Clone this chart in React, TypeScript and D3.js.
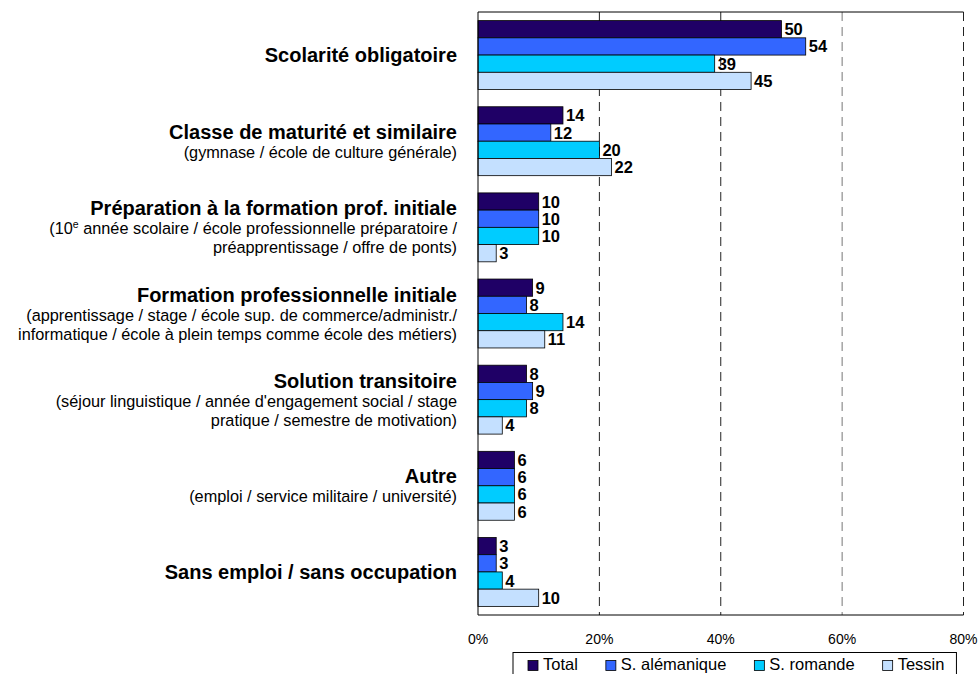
import React, { useEffect, useRef } from 'react';
import * as d3 from 'd3';

// categories (bold title) and their grey explanation lines
const categories = [
    'Scolarité obligatoire',
    'Classe de maturité et similaire',
    'Préparation à la formation prof. initiale',
    'Formation professionnelle initiale',
    'Solution transitoire',
    'Autre',
    'Sans emploi / sans occupation',
];
const subtitles = [
    [],
    ['(gymnase / école de culture générale)'],
    ['(10^e année scolaire / école professionnelle préparatoire /', 'préapprentissage / offre de ponts)'],
    ['(apprentissage / stage / école sup. de commerce/administr./', 'informatique / école à plein temps comme école des métiers)'],
    ["(séjour linguistique / année d'engagement social / stage", 'pratique / semestre de motivation)'],
    ['(emploi / service militaire / université)'],
    [],
];

const seriesNames = ['Total', 'S. alémanique', 'S. romande', 'Tessin'];
const total = [50, 14, 10, 9, 8, 6, 3];
const alemanique = [54, 12, 10, 8, 9, 6, 3];
const romande = [39, 20, 10, 14, 8, 6, 4];
const tessin = [45, 22, 3, 11, 4, 6, 10];
const tickValues = [0, 20, 40, 60, 80];

const colors = ['#1f0066', '#3366ff', '#00ccff', '#c4e0ff'];

const App = () => {
    const ref = useRef(null);

    useEffect(() => {
        const width = 980;
        const height = 674;
        const margin = {
            top: 12, right: 16.5, bottom: 59, left: 478,
        };
        const font = 'Arial, "Liberation Sans", sans-serif';
        const series = [total, alemanique, romande, tessin];

        const svg = d3.select(ref.current);
        svg.selectAll('*').remove();
        svg.attr('width', width).attr('height', height)
            .style('font-family', font);

        const x = d3.scaleLinear()
            .domain([0, 80])
            .range([margin.left, width - margin.right]);
        const y = d3.scaleBand()
            .domain(categories)
            .range([margin.top, height - margin.bottom])
            .paddingInner(0.2)
            .paddingOuter(0.1);
        const yInner = d3.scaleBand()
            .domain(seriesNames)
            .range([0, y.bandwidth()]);

        // dashed gridlines
        svg.append('g')
            .selectAll('line')
            .data(tickValues.filter((t) => t > 0))
            .join('line')
            .attr('x1', (d) => x(d))
            .attr('x2', (d) => x(d))
            .attr('y1', margin.top)
            .attr('y2', height - margin.bottom)
            .attr('stroke', (d) => (d === 60 ? '#777' : '#222'))
            .attr('stroke-width', 1)
            .attr('stroke-dasharray', '9,6');

        // top and bottom frame
        svg.append('line')
            .attr('x1', x(0)).attr('x2', x(80))
            .attr('y1', margin.top).attr('y2', margin.top)
            .attr('stroke', '#000');
        svg.append('line')
            .attr('x1', x(0)).attr('x2', x(80))
            .attr('y1', height - margin.bottom).attr('y2', height - margin.bottom)
            .attr('stroke', '#000');

        // bars
        const groups = svg.append('g')
            .selectAll('g')
            .data(categories)
            .join('g')
            .attr('transform', (d) => `translate(0,${y(d)})`);

        seriesNames.forEach((name, si) => {
            groups.append('rect')
                .attr('x', x(0))
                .attr('y', yInner(name))
                .attr('width', (d, i) => x(series[si][i]) - x(0))
                .attr('height', yInner.bandwidth())
                .attr('fill', colors[si])
                .attr('stroke', '#000')
                .attr('stroke-width', 0.8);

            groups.append('text')
                .attr('x', (d, i) => x(series[si][i]) + 3)
                .attr('y', yInner(name) + yInner.bandwidth() / 2 + 6)
                .attr('font-size', '16.5px')
                .attr('font-weight', 'bold')
                .attr('fill', '#000')
                .text((d, i) => series[si][i]);
        });

        // left axis line
        svg.append('line')
            .attr('x1', x(0)).attr('x2', x(0))
            .attr('y1', margin.top).attr('y2', height - margin.bottom)
            .attr('stroke', '#000');

        // category labels
        const lineH = 19;
        categories.forEach((cat, i) => {
            const subs = subtitles[i];
            const n = subs.length + 1;
            const center = y(cat) + y.bandwidth() / 2;
            const first = center - ((n - 1) * lineH) / 2 + 7;
            svg.append('text')
                .attr('x', 457)
                .attr('y', first)
                .attr('text-anchor', 'end')
                .attr('font-size', '20px')
                .attr('font-weight', 'bold')
                .attr('fill', '#000')
                .text(cat);
            subs.forEach((line, j) => {
                const t = svg.append('text')
                    .attr('x', 457)
                    .attr('y', first + (j + 1) * lineH)
                    .attr('text-anchor', 'end')
                    .attr('font-size', '16.3px')
                    .attr('fill', '#000');
                if (line.includes('^')) {
                    const [pre, rest] = line.split('^');
                    t.append('tspan').text(pre);
                    t.append('tspan')
                        .attr('font-size', '10.5px')
                        .attr('dy', -6)
                        .text(rest[0]);
                    t.append('tspan')
                        .attr('dy', 6)
                        .text(rest.slice(1));
                } else {
                    t.text(line);
                }
            });
        });

        // x tick labels
        svg.append('g')
            .selectAll('text')
            .data(tickValues)
            .join('text')
            .attr('x', (d) => x(d))
            .attr('y', 644)
            .attr('text-anchor', 'middle')
            .attr('font-size', '14px')
            .attr('fill', '#000')
            .text((d) => `${d}%`);

        // legend (its lower edge runs off the page, as in the source)
        const legend = svg.append('g');
        const box = legend.append('rect')
            .attr('x', 513)
            .attr('y', 652.5)
            .attr('height', 30)
            .attr('fill', '#fff')
            .attr('stroke', '#000');
        let cx = 528;
        seriesNames.forEach((name, si) => {
            legend.append('rect')
                .attr('x', cx)
                .attr('y', 660.5)
                .attr('width', 10)
                .attr('height', 10)
                .attr('fill', colors[si])
                .attr('stroke', '#000')
                .attr('stroke-width', 0.8);
            const txt = legend.append('text')
                .attr('x', cx + 15)
                .attr('y', 669.5)
                .attr('font-size', '16.5px')
                .attr('fill', '#000')
                .text(name);
            const w = txt.node().getComputedTextLength();
            cx += 15 + w + 28;
        });
        box.attr('width', cx - 28 + 12 - 513);
    }, []);

    return (
        <svg ref={ref} style={{ position: 'absolute', left: 0, top: 0 }} />
    );
};

export default App;
